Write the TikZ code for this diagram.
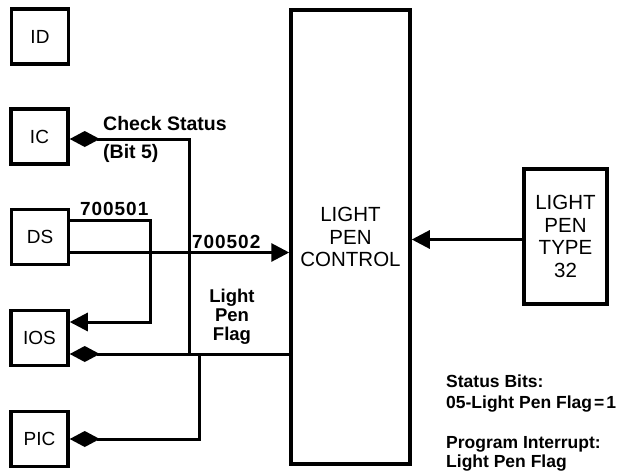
\documentclass[tikz,border=0pt]{standalone}
\usepackage{fontspec}
\setmainfont{Liberation Sans}
\newfontfamily\lblfont{Liberation Sans Bold}
\newfontfamily\numfont[LetterSpace=5]{Liberation Sans Bold}
\usetikzlibrary{arrows.meta}
\begin{document}
\begin{tikzpicture}[x=1pt,y=-1pt,
  box/.style={draw, line width=3.5pt, minimum width=57pt, minimum height=55pt, inner sep=0pt,
    font=\fontsize{19}{21}\selectfont},
  bigbox/.style={draw, line width=3.5pt, inner sep=0pt, align=center,
    font=\fontsize{20.5}{22.5}\selectfont},
  conn/.style={line width=3pt},
  arr/.style={conn, -{Triangle[length=18pt,width=18pt]}},
  dia/.style={conn, {Diamond[length=30pt,width=16pt]}-},
  lbl/.style={inner sep=0pt, anchor=base west, font=\lblfont\fontsize{19.5}{21}\selectfont},
  numlbl/.style={inner sep=0pt, anchor=base west, font=\numfont\fontsize{19}{21}\selectfont},
  flaglbl/.style={inner sep=0pt, anchor=base, font=\lblfont\fontsize{18.5}{19.5}\selectfont},
  note/.style={inner sep=0pt, anchor=base west, font=\lblfont\fontsize{17.5}{20}\selectfont}]
\useasboundingbox (0,0) rectangle (619,472);
% boxes
\node[box] (ID)  at (40,36.5)  {ID};
\node[box] (IC)  at (39.5,136.5) {IC};
\node[box] (DS)  at (40,237)   {DS};
\node[box] (IOS) at (39.5,338) {IOS};
\node[box] (PIC) at (39.5,439) {PIC};
\node[bigbox, minimum width=119pt, minimum height=454pt] (LPC) at (350.5,237) {LIGHT\\PEN\\CONTROL};
\node[bigbox, minimum width=83pt, minimum height=135pt] (LPT) at (565.5,236.5) {LIGHT\\PEN\\TYPE\\32};
% junction coordinates
\coordinate (c501) at (150,322);
\coordinate (cchk) at (189.5,354);
\coordinate (cpic) at (199,439);
% connectors
\draw[arr] (LPT.west |- 0,239.5) -- (LPC.east |- 0,239.5);
\draw[arr] (DS.east |- 0,252.5) -- (LPC.west |- 0,252.5);
\draw[arr] (DS.east |- 0,220.5) -| (c501) -- (IOS.east |- c501);
\draw[dia] (IC.east |- 0,139) -| (cchk);
\draw[dia] (IOS.east |- 0,354) -- (LPC.west |- 0,354);
\draw[dia] (PIC.east |- cpic) -- (cpic) -- (cpic |- 0,354);
% labels
\node[lbl] (lchk) at (103,130) {Check Status};
\node[lbl] (lbit) at (103,158) {(Bit 5)};
\node[numlbl] (l501) at (80,215) {700501};
\node[numlbl] (l502) at (192,248) {700502};
\node[flaglbl] (lf1) at (232,302) {Light};
\node[flaglbl] (lf2) at (232,321) {Pen};
\node[flaglbl] (lf3) at (232,340) {Flag};
% notes
\node[note] (n1) at (446,387) {Status Bits:};
\node[note] (n2) at (446,408) {05-Light Pen Flag\kern2pt=\kern2pt1};
\node[note] (n3) at (446,448) {Program Interrupt:};
\node[note] (n4) at (446,467) {Light Pen Flag};
\end{tikzpicture}
\end{document}
